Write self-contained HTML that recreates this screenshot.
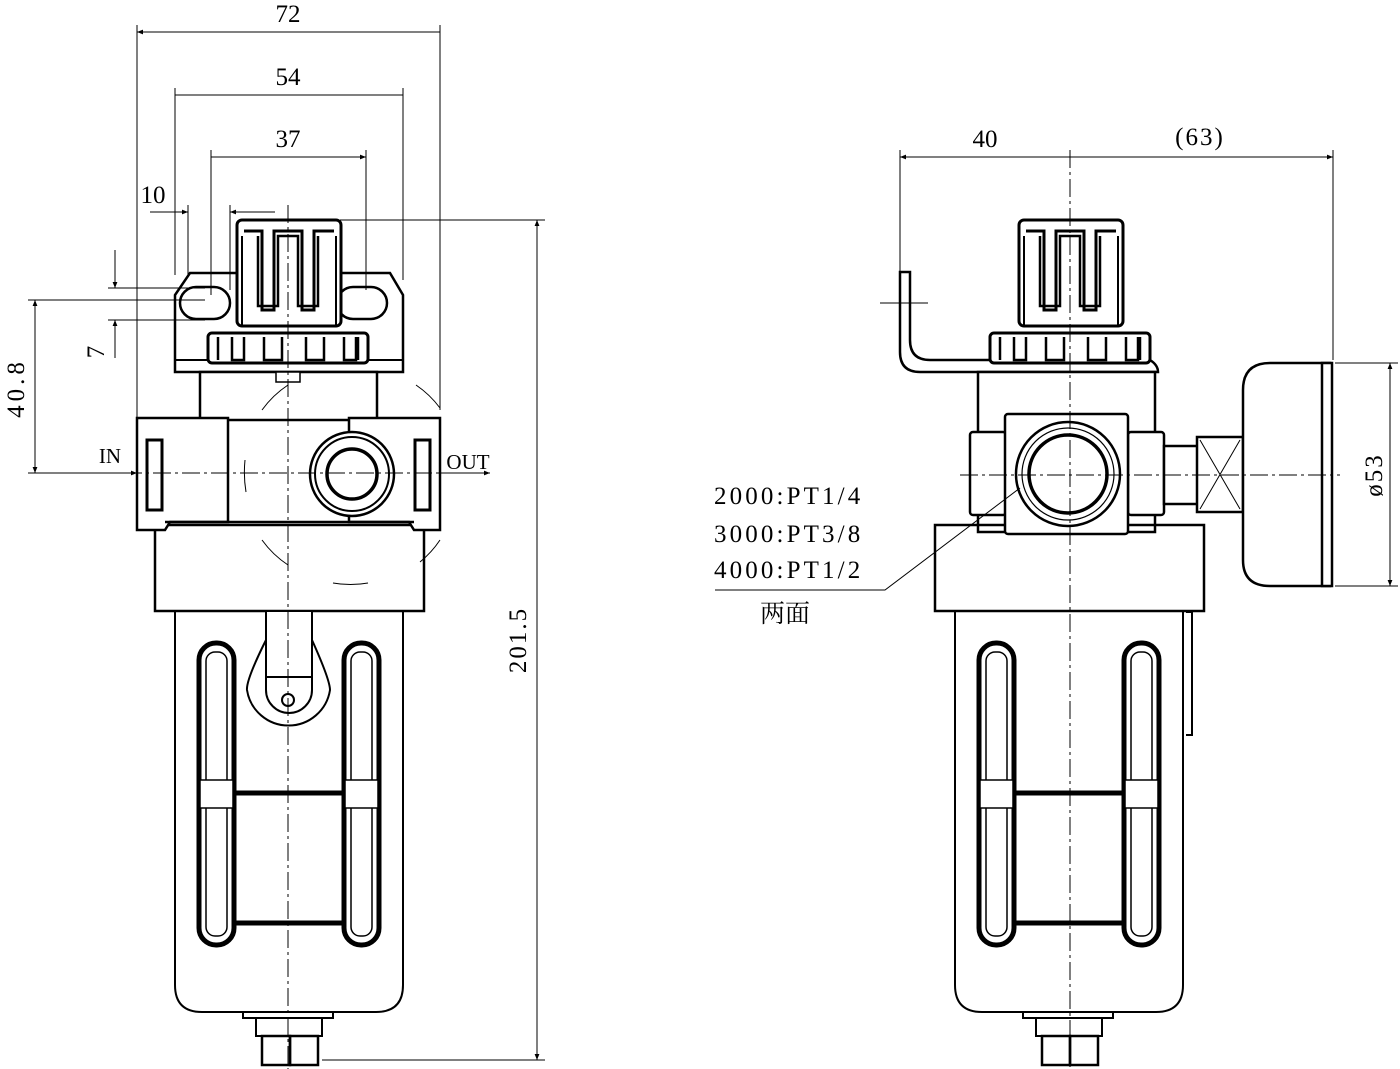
<!DOCTYPE html>
<html><head><style>body{margin:0;background:#fff}svg{display:block}</style></head><body>
<svg width="1400" height="1069" viewBox="0 0 1400 1069" xmlns="http://www.w3.org/2000/svg" font-family="Liberation Serif, 'Noto Serif CJK SC', serif">
<defs>
<marker id="a" viewBox="0 0 10 10" refX="10" refY="5" markerWidth="14" markerHeight="6" orient="auto-start-reverse" markerUnits="userSpaceOnUse"><path d="M0,1 L10,5 L0,9z" fill="#000"/></marker>
<g id="knob" fill="#fff" stroke="#000" stroke-width="3">
<rect x="237" y="220" width="104" height="106" rx="5"/>
<path d="M242 326 V236 M336 326 V236" fill="none" stroke-width="2"/>
<path d="M244 231 H262 V310 H274 V231 H302 V310 H314 V231 H334" fill="none" stroke-width="3"/>
<path d="M258 236 V306 H278 V236 H298 V306 H318 V236" fill="none" stroke-width="2.5"/>
<rect x="208" y="333" width="160" height="30" rx="4"/>
<path d="M218 337 V360 M232 337 V360 H244 V337 M264 337 V360 H282 V337 M306 337 V360 H324 V337 M344 337 V360 H356 V337 M358 337 V360" fill="none" stroke-width="2.5"/>
</g>
<g id="bowl" fill="none" stroke="#000">
<path d="M175 610 V985 Q175 1012 202 1012 H376 Q403 1012 403 985 V610" stroke-width="2"/>
<rect x="199" y="643" width="35" height="302" rx="17" stroke-width="5"/>
<rect x="344" y="643" width="35" height="302" rx="17" stroke-width="5"/>
<rect x="206" y="652" width="21" height="284" rx="9" stroke-width="1.5"/>
<rect x="351" y="652" width="21" height="284" rx="9" stroke-width="1.5"/>
<rect x="200" y="780" width="33" height="28" fill="#fff" stroke-width="1.5"/>
<rect x="345" y="780" width="33" height="28" fill="#fff" stroke-width="1.5"/>
<path d="M234 793 H344 M234 923 H344" stroke-width="5"/>
<path d="M243 1012 V1018 H333 V1012" stroke-width="2"/>
<rect x="256" y="1018" width="66" height="18" stroke-width="2"/>
<rect x="262" y="1036" width="28" height="29" stroke-width="2.5"/>
<rect x="290" y="1036" width="28" height="29" stroke-width="2.5"/>
<rect x="155" y="525" width="269" height="86" stroke-width="2.5"/>
</g>
</defs>

<!-- LEFT VIEW -->
<g stroke="#000" fill="#fff" stroke-width="2.5">
<path d="M175 372 V295 L190 273 H390 L403 295 V372 Z"/>
<line x1="175" y1="360" x2="403" y2="360" stroke-width="2"/>
<rect x="180" y="287" width="50" height="32" rx="16"/>
<rect x="337" y="287" width="50" height="32" rx="16"/>
<rect x="200" y="372" width="177" height="48"/>
<rect x="276" y="372" width="24" height="10" stroke-width="1.5"/>
</g>
<use href="#knob"/>
<use href="#bowl"/>
<g stroke="#000" fill="#fff" stroke-width="2.5">
<path d="M137 418 H228 V522 H170 L165 530 H137 Z"/>
<path d="M349 418 H440 V530 H414 L409 522 H349 Z"/>
<rect x="147" y="440" width="15" height="70" stroke-width="3"/>
<rect x="415" y="440" width="15" height="70" stroke-width="3"/>
<line x1="165" y1="522" x2="414" y2="522"/>
<circle cx="352" cy="474" r="42"/>
<circle cx="352" cy="474" r="37" stroke-width="2"/>
<circle cx="352" cy="474" r="25" stroke-width="3.5"/>
<path d="M266 612 V640 Q246 680 247 690 A42 42 0 0 0 330 690 Q330 680 312 640 V612" fill="#fff" stroke-width="2"/>
<path d="M266 612 V690 A23 23 0 0 0 312 690 V612 M266 677 H312" fill="none" stroke-width="2"/>
<circle cx="288" cy="700" r="6" stroke-width="2"/>
</g>
<g fill="none" stroke="#000" stroke-width="1">
<path d="M262 410 A100 100 0 0 1 288 385 M416 385 A100 100 0 0 1 440 408 M245 460 A120 120 0 0 0 246 492 M262 540 A100 100 0 0 0 288 565 M420 562 A100 100 0 0 0 440 540 M333 583 A100 100 0 0 0 368 583"/>
<path d="M288 205 V1069 M95 473 H490" stroke-dasharray="18 4 3 4"/>
</g>
<!-- left dims -->
<g stroke="#000" stroke-width="1" fill="none">
<path d="M137 25 V418 M440 25 V410 M175 88 V275 M403 88 V280 M211 150 V295 M366 150 V290"/>
<path d="M137 32 H440 M175 95 H403 M211 157 H366" marker-start="url(#a)" marker-end="url(#a)"/>
<path d="M150 212 H188" marker-end="url(#a)"/><path d="M275 212 H230" marker-end="url(#a)"/>
<path d="M188 205 V275 M230 205 V290"/>
<path d="M340 220 H545 M322 1060 H545"/>
<path d="M537 220 V1060" marker-start="url(#a)" marker-end="url(#a)"/>
<path d="M28 300 H205 M28 473 H95"/>
<path d="M35 300 V473" marker-start="url(#a)" marker-end="url(#a)"/>
<path d="M108 288 H205 M108 320 H205"/>
<path d="M115 250 V288" marker-end="url(#a)"/><path d="M115 358 V320" marker-end="url(#a)"/>
<path d="M95 473 H137" marker-end="url(#a)"/><path d="M440 473 H490" marker-end="url(#a)"/>
</g>
<g font-size="25" fill="#000" text-anchor="middle">
<text x="288" y="22">72</text><text x="288" y="85">54</text><text x="288" y="147">37</text>
<text x="153" y="203">10</text>
<text x="110" y="463" font-size="21">IN</text><text x="468" y="469" font-size="21">OUT</text>
<text transform="translate(526,640) rotate(-90)" letter-spacing="2">201.5</text>
<text transform="translate(24,388) rotate(-90)" letter-spacing="4">40.8</text>
<text transform="translate(104,352) rotate(-90)">7</text>
</g>

<!-- RIGHT VIEW -->
<g stroke="#000" fill="#fff" stroke-width="2.5">
<path d="M900 272 H910 V340 Q910 360 930 360 H1150 Q1158 365 1158 372 H920 Q900 372 900 352 Z"/>
<rect x="978" y="372" width="177" height="160"/>
</g>
<use href="#knob" transform="translate(782,0)"/>
<use href="#bowl" transform="translate(780,0)"/>
<g stroke="#000" fill="#fff" stroke-width="2.5">
<path d="M1186 612 H1192 V735 H1186" fill="none" stroke-width="2"/>
<rect x="970" y="432" width="36" height="83" rx="3"/>
<rect x="1128" y="432" width="36" height="83" rx="3"/>
<rect x="1005" y="414" width="123" height="120" rx="3"/>
<circle cx="1068" cy="474" r="52"/>
<circle cx="1068" cy="474" r="46" stroke-width="1.2"/>
<circle cx="1068" cy="474" r="39" stroke-width="3.5"/>
<rect x="1164" y="446" width="34" height="58"/>
<rect x="1197" y="437" width="46" height="75"/>
<path d="M1200 440 L1240 509 M1240 440 L1200 509" stroke-width="1"/>
<path d="M1330 363 H1270 Q1243 363 1243 390 V560 Q1243 586 1270 586 H1330 Z"/>
<rect x="1322" y="363" width="10" height="223"/>
</g>
<g fill="none" stroke="#000" stroke-width="1">
<path d="M1070 150 V1069 M960 475 H1340" stroke-dasharray="18 4 3 4"/>
<path d="M880 303 H928"/>
<path d="M900 150 V272 M1333 150 V360"/>
<path d="M900 157 H1070 M1070 157 H1333" marker-start="url(#a)" marker-end="url(#a)"/>
<path d="M1335 363 H1398 M1335 586 H1398"/>
<path d="M1390 363 V586" marker-start="url(#a)" marker-end="url(#a)"/>
<path d="M715 590 H885 L1020 488"/>
</g>
<g font-size="25" fill="#000" text-anchor="middle">
<text x="985" y="147">40</text><text x="1200" y="145" letter-spacing="2">(63)</text>
<text transform="translate(1382,475) rotate(-90)" letter-spacing="2">ø53</text>
</g>
<g font-size="25" fill="#000" letter-spacing="1.8">
<text x="714" y="504" textLength="148">2000:PT1/4</text>
<text x="714" y="542" textLength="148">3000:PT3/8</text>
<text x="714" y="578" textLength="148">4000:PT1/2</text>
<text x="760" y="622" letter-spacing="0">两面</text>
</g>
</svg>
</body></html>
